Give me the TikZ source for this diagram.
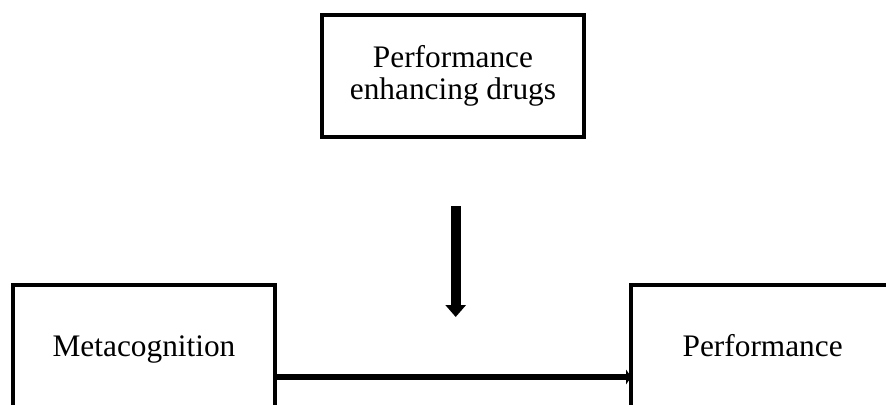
\documentclass[tikz,border=0pt]{standalone}
\usepackage{fontspec}
\setmainfont{Liberation Serif}
\usepackage{tikz}
\usetikzlibrary{positioning,arrows.meta}

\begin{document}
\begin{tikzpicture}[
        x=0.75pt, y=0.75pt,
        node distance = 267pt,
        every node/.style = {draw, line width=3pt, minimum width=197pt, minimum height=92pt, inner sep=5pt, outer sep=0pt, anchor=center, align=center, font=\fontsize{23.5}{24}\selectfont},
        oneline/.style = {text height=15.5pt, text depth=0pt}
    ]
        \useasboundingbox (0,0) rectangle (886,-404);
        \clip (0,0) rectangle (886,-404);
        \node (drugs) at (453,-76)          {Performance\\enhancing drugs};
%
        \node (meta)  [oneline] at (144,-346)   {Metacognition};
        \node (perf)  [oneline, right=of meta]  {Performance};
%
        \coordinate (vtop) at (455.7,-206);
        \coordinate (vtip) at (455.7,-317);
        \draw[line width=7.5pt, -{Triangle[width=15pt, length=9pt]}] (vtop) -- (vtip);
        \draw[line width=4.9pt, -{Triangle[width=11pt, length=4pt]}] ([yshift=-23.25pt]meta.east) -- ([yshift=-23.25pt]perf.west);
    \end{tikzpicture}
\end{document}
